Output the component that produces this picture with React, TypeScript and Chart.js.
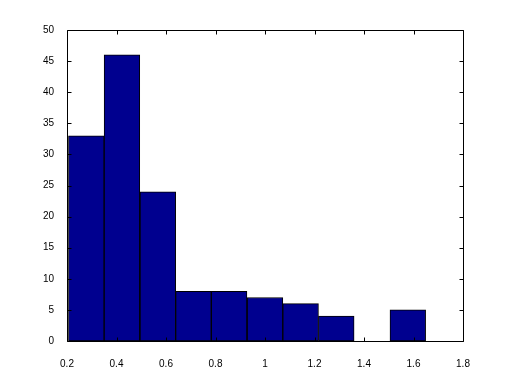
import React, { useEffect, useRef } from "react";
import { Chart, registerables } from "chart.js";

Chart.register(...registerables);

// Histogram bin centres (10 equal bins from ~0.206 to ~1.649)
const binCenters = [0.278, 0.422, 0.567, 0.711, 0.855, 1.0, 1.144, 1.288, 1.433, 1.577];
const counts = [33, 46, 24, 8, 8, 7, 6, 4, 0, 5];
const xTicks = [0.2, 0.4, 0.6, 0.8, 1.0, 1.2, 1.4, 1.6, 1.8];
const yTicks = [0, 5, 10, 15, 20, 25, 30, 35, 40, 45, 50];

const boxPlugin = {
  id: "matlabBox",
  afterDraw(chart: any) {
    const { ctx, chartArea } = chart;
    const xs = chart.scales.x;
    const ys = chart.scales.y;
    const { left, right, top, bottom } = chartArea;
    ctx.save();
    ctx.strokeStyle = "#000";
    ctx.lineWidth = 1;
    ctx.beginPath();
    ctx.rect(left + 0.5, top + 0.5, right - left, bottom - top);
    ctx.stroke();
    const len = 4;
    ctx.beginPath();
    for (const v of xTicks) {
      const px = Math.round(xs.getPixelForValue(v)) + 0.5;
      ctx.moveTo(px, bottom + 0.5);
      ctx.lineTo(px, bottom + 0.5 - len);
      ctx.moveTo(px, top + 0.5);
      ctx.lineTo(px, top + 0.5 + len);
    }
    for (const v of yTicks) {
      const py = Math.round(ys.getPixelForValue(v)) + 0.5;
      ctx.moveTo(left + 0.5, py);
      ctx.lineTo(left + 0.5 + len, py);
      ctx.moveTo(right + 0.5, py);
      ctx.lineTo(right + 0.5 - len, py);
    }
    ctx.stroke();
    ctx.restore();
  },
};

export default function App() {
  const ref = useRef<HTMLCanvasElement | null>(null);
  useEffect(() => {
    if (!ref.current) return;
    const chart = new Chart(ref.current, {
      type: "bar",
      data: {
        datasets: [
          {
            data: binCenters.map((c, i) => ({ x: c, y: counts[i] })),
            backgroundColor: "rgb(0,0,143)",
            borderColor: "#000",
            borderWidth: 1,
            borderSkipped: false,
            barPercentage: 1,
            categoryPercentage: 1,
          },
        ],
      },
      options: {
        animation: false,
        responsive: true,
        maintainAspectRatio: false,
        layout: { padding: { left: 0, top: 30, right: 49, bottom: 0 } },
        plugins: { legend: { display: false }, tooltip: { enabled: false } },
        scales: {
          x: {
            type: "linear",
            min: 0.2,
            max: 1.8,
            offset: false,
            grid: { display: false, offset: false },
            border: { display: false },
            afterBuildTicks: (s: any) => {
              s.ticks = xTicks.map((v) => ({ value: v }));
            },
            afterFit: (s: any) => {
              s.height = 42;
            },
            ticks: {
              padding: 9,
              maxRotation: 0,
              autoSkip: false,
              color: "#000",
              font: { family: "'Liberation Sans', Arial, sans-serif", size: 10 },
              callback: (v: any) => String(Number(Number(v).toFixed(1))),
            },
          },
          y: {
            type: "linear",
            min: 0,
            max: 50,
            grid: { display: false },
            border: { display: false },
            afterBuildTicks: (s: any) => {
              s.ticks = yTicks.map((v) => ({ value: v }));
            },
            afterFit: (s: any) => {
              s.width = 67;
            },
            ticks: {
              padding: 5,
              autoSkip: false,
              color: "#000",
              font: { family: "'Liberation Sans', Arial, sans-serif", size: 10 },
              callback: (v: any) => String(v),
            },
          },
        },
      },
      plugins: [boxPlugin],
    } as any);
    return () => chart.destroy();
  }, []);
  return (
    <div style={{ position: "fixed", left: 0, top: 0, width: 512, height: 383, background: "#fff" }}>
      <canvas ref={ref} />
    </div>
  );
}
